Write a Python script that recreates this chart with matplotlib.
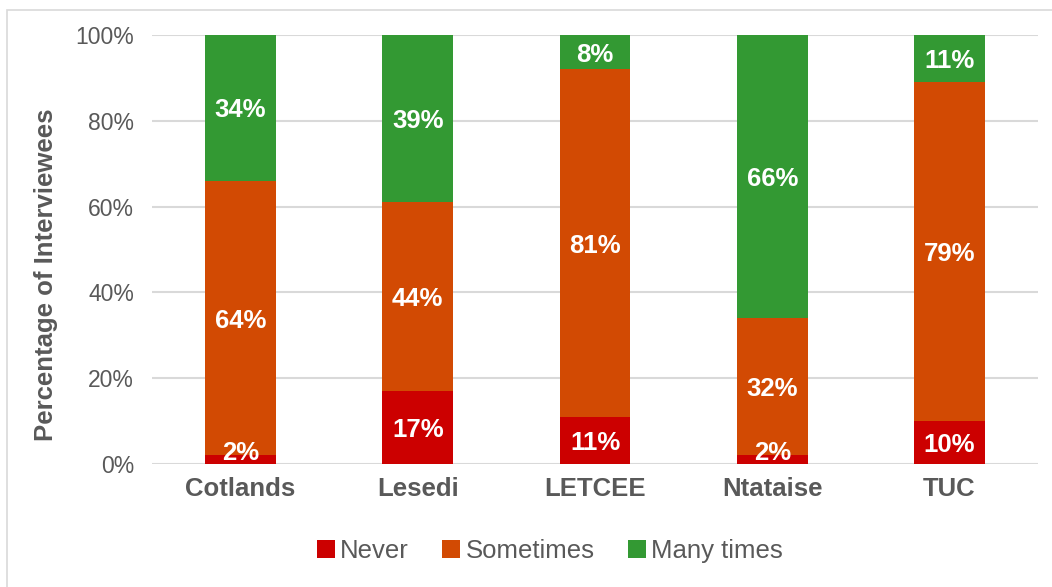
import matplotlib
matplotlib.use("Agg")
import matplotlib.pyplot as plt
import matplotlib.patches as mpatches
import numpy as np

plt.rcParams['font.family'] = ['Liberation Sans', 'DejaVu Sans']

# data (percent of interviewees)
sites = ['Cotlands', 'Lesedi', 'LETCEE', 'Ntataise', 'TUC']
never = [2, 17, 11, 2, 10]
sometimes = [64, 44, 81, 32, 79]
many_times = [34, 39, 8, 66, 11]
series_names = ['Never', 'Sometimes', 'Many times']
colors = ['#CC0000', '#D24A03', '#339933']

grey = '#595959'

fig = plt.figure(figsize=(10.52, 5.87), dpi=100)
ax = fig.add_axes([152 / 1052, 1 - 464 / 587, 886 / 1052, 429 / 587])

# light frame around the chart
fig.patches.append(mpatches.Rectangle((7 / 1052, -0.1), 1.1, 1.1 - 10 / 587,
                                      transform=fig.transFigure, fill=False,
                                      edgecolor='#D9D9D9', linewidth=1.2))

x = np.arange(len(sites))
bottom = np.zeros(len(sites))
for vals, name, col in zip([never, sometimes, many_times], series_names, colors):
    vals = np.array(vals, dtype=float)
    ax.bar(x, vals, 0.4, bottom=bottom, color=col, label=name, zorder=3)
    for xi, b, v in zip(x, bottom, vals):
        y = max(b + v / 2, 3.1)
        ax.text(xi, y, f'{int(v)}%', ha='center', va='center_baseline', color='white',
                fontsize=18.5, fontweight='bold', zorder=4)
    bottom += vals

ax.set_xlim(-0.5, len(sites) - 0.5)
ax.set_ylim(0, 100)
ax.set_yticks(np.arange(0, 101, 20))
ax.set_yticklabels([f'{t}%' for t in range(0, 101, 20)])
ax.set_xticks(x)
ax.set_xticklabels(sites, fontweight='bold')
ax.tick_params(axis='y', length=0, labelsize=16.5, labelcolor=grey, pad=13)
ax.tick_params(axis='x', length=0, labelsize=18.5, labelcolor=grey, pad=9)
ax.grid(axis='y', color='#D9D9D9', linewidth=1.5, zorder=0)
for s in ax.spines.values():
    s.set_visible(False)
ax.set_ylabel('Percentage of Interviewees', fontsize=18.5, fontweight='bold',
              color=grey)
ax.yaxis.set_label_coords(58 / 1052, 1 - 275 / 587, transform=fig.transFigure)

ax.legend(loc='center', bbox_to_anchor=(550 / 1052, 1 - 551 / 587),
          bbox_transform=fig.transFigure, ncol=3, frameon=False,
          fontsize=18.5, labelcolor=grey, handlelength=0.7, handleheight=0.7,
          handletextpad=0.2, columnspacing=1.3)

fig.savefig('out.png', dpi=100)
